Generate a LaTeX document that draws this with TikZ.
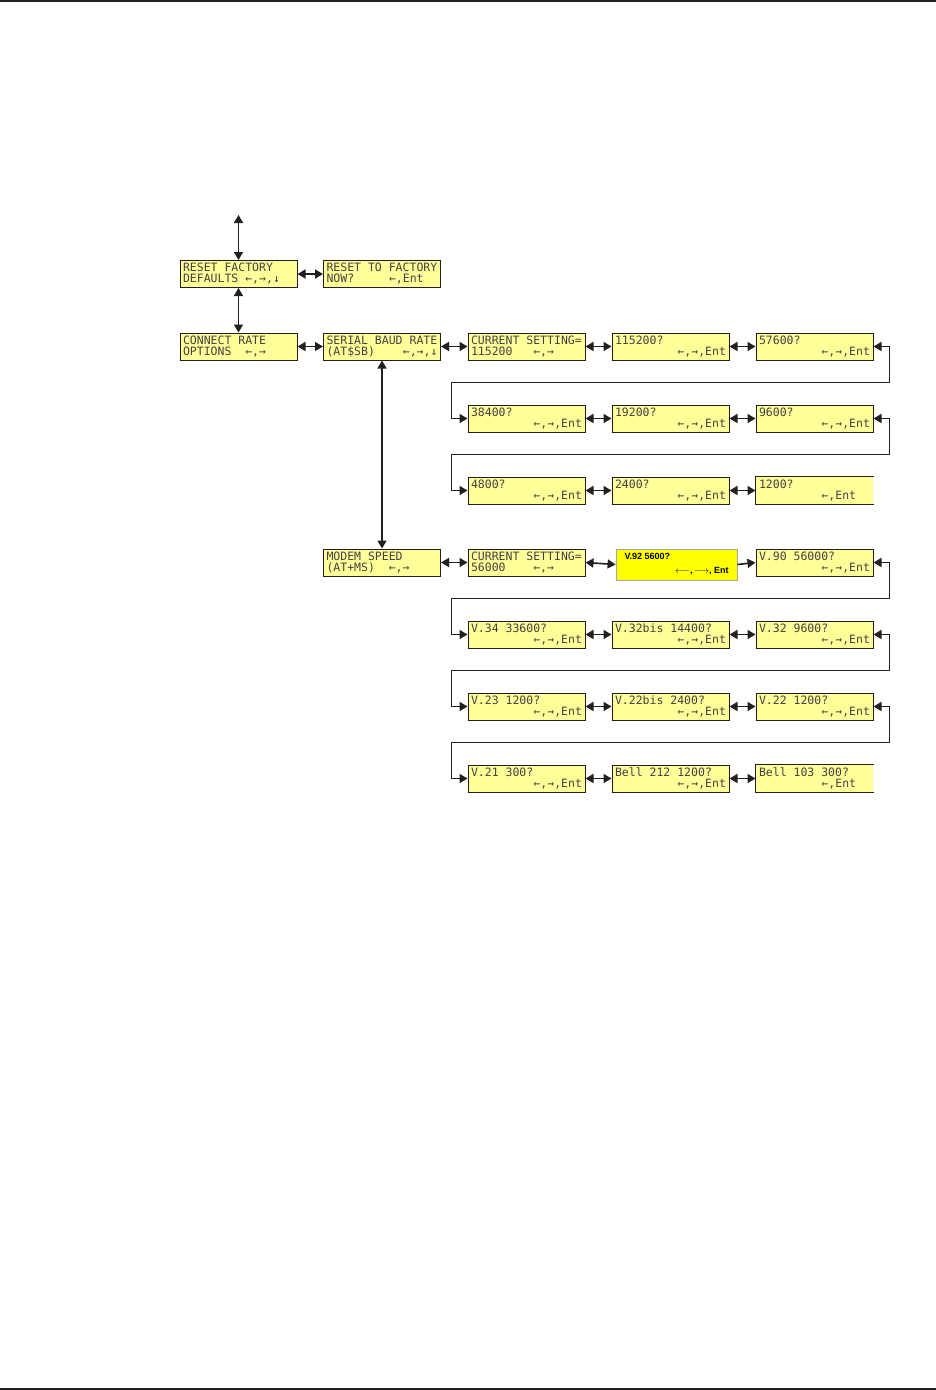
\documentclass[tikz,border=0pt]{standalone}
\usepackage{fontspec}
\usepackage{tikz}
\usetikzlibrary{arrows.meta,positioning,calc}
\newfontfamily\lcdfont{DejaVu Sans Mono}
\newfontfamily\vfont{Liberation Sans}
\definecolor{lcdyellow}{HTML}{FFFF99}
\definecolor{hiyellow}{HTML}{FFFF00}
\definecolor{ink}{HTML}{231F20}
% two lines of a 16-character display
\newcommand{\lcd}[2]{\vbox{\hsize=111pt\hbox to\hsize{#1\hfil}\hbox to\hsize{#2\hfil}}}

\begin{document}
\begin{tikzpicture}[x=1pt,y=-1pt,
  lcd/.style={draw=ink,line width=1pt,fill=lcdyellow,minimum width=117pt,minimum height=27pt,
    inner sep=0pt,font=\lcdfont\fontsize{11.5}{11}\selectfont,text=ink!85},
  lcdopen/.style={lcd,draw=none},
  dbl/.style={{Triangle[length=8pt,width=9pt]}-{Triangle[length=8pt,width=9pt]},line width=1.6pt,draw=ink},
  sgl/.style={-{Triangle[length=8pt,width=9pt]},line width=1.6pt,draw=ink}]
\useasboundingbox (0,0) rectangle (936,1390);
\draw[ink,line width=1.2pt] (0,1) -- (936,1);
\draw[ink,line width=1.2pt] (0,1389) -- (936,1389);

% menu column
\node[lcd] (rf) at (238.5,274) {\lcd{RESET FACTORY}{DEFAULTS ←,→,↓}};
\node[lcd] (rn) at (382,274) {\lcd{RESET TO FACTORY}{NOW?\hfill←,Ent~~}};
\node[lcd] (cr) at (238.5,346.5) {\lcd{CONNECT RATE}{OPTIONS~~←,→}};
\node[lcd] (sb) at (382,346.5) {\lcd{SERIAL BAUD RATE}{(AT\$SB)\hfill←,→,↓}};
\node[lcd] (ms) at (382,562.5) {\lcd{MODEM SPEED}{(AT+MS)~~←,→}};

% serial baud rate
\node[lcd] (cs) at (526.5,346.5) {\lcd{CURRENT SETTING=}{115200~~~←,→}};
\node[lcd] (b1) at (670.5,346.5) {\lcd{115200?}{\hfill←,→,Ent}};
\node[lcd] (b2) at (814.5,346.5) {\lcd{57600?}{\hfill←,→,Ent}};
\node[lcd] (b3) at (526.5,418.5) {\lcd{38400?}{\hfill←,→,Ent}};
\node[lcd] (b4) at (670.5,418.5) {\lcd{19200?}{\hfill←,→,Ent}};
\node[lcd] (b5) at (814.5,418.5) {\lcd{9600?}{\hfill←,→,Ent}};
\node[lcd] (b6) at (526.5,490.5) {\lcd{4800?}{\hfill←,→,Ent}};
\node[lcd] (b7) at (670.5,490.5) {\lcd{2400?}{\hfill←,→,Ent}};
\node[lcdopen] (b8) at (814.5,490.5) {\lcd{1200?}{\hfill←,Ent~~}};
\draw[ink,line width=1pt] (b8.north east) -- (b8.north west) -- (b8.south west) -- (b8.south east);

% modem speed
\node[lcd] (cm) at (526.5,562.5) {\lcd{CURRENT SETTING=}{56000~~~~←,→}};
\node[draw=gray!70,line width=0.8pt,fill=hiyellow,minimum width=121pt,minimum height=31pt,inner sep=0pt,
  font=\vfont\bfseries\fontsize{9}{14}\selectfont] (v92) at (676.5,564.5)
  {\vbox{\hsize=104pt\hbox to\hsize{V.92 5600?\hfil}\hbox to\hsize{\hfil$\longleftarrow$,\,$\longrightarrow$, Ent}}};
\node[lcd] (m1) at (814.5,562.5) {\lcd{V.90 56000?}{\hfill←,→,Ent}};
\node[lcd] (m2) at (526.5,634.5) {\lcd{V.34 33600?}{\hfill←,→,Ent}};
\node[lcd] (m3) at (670.5,634.5) {\lcd{V.32bis 14400?}{\hfill←,→,Ent}};
\node[lcd] (m4) at (814.5,634.5) {\lcd{V.32 9600?}{\hfill←,→,Ent}};
\node[lcd] (m5) at (526.5,706.5) {\lcd{V.23 1200?}{\hfill←,→,Ent}};
\node[lcd] (m6) at (670.5,706.5) {\lcd{V.22bis 2400?}{\hfill←,→,Ent}};
\node[lcd] (m7) at (814.5,706.5) {\lcd{V.22 1200?}{\hfill←,→,Ent}};
\node[lcd] (m8) at (526.5,778.5) {\lcd{V.21 300?}{\hfill←,→,Ent}};
\node[lcd] (m9) at (670.5,778.5) {\lcd{Bell 212 1200?}{\hfill←,→,Ent}};
\node[lcdopen] (m10) at (814.5,778.5) {\lcd{Bell 103 300?}{\hfill←,Ent~~}};
\draw[ink,line width=1pt] (m10.north east) -- (m10.north west) -- (m10.south west) -- (m10.south east);

% connectors
\draw[dbl] (rf.north) -- ++(0,-45);
\draw[dbl] (rf.south) -- (cr.north);
\draw[dbl] (sb.south) -- (ms.north);
\foreach \a/\b in {rf/rn,cr/sb,sb/cs,cs/b1,b1/b2,b3/b4,b4/b5,b6/b7,b7/b8,
    ms/cm,cm/v92,m2/m3,m3/m4,m5/m6,m6/m7,m8/m9,m9/m10}
  \draw[dbl] (\a.east) -- (\b.west);
\draw[sgl] (v92.east) -- (m1.west);
\foreach \a/\b in {b2/b3,b5/b6,m1/m2,m4/m5,m7/m8}
  \draw[dbl] (\a.east) -- ++(16,0) |- ($(\b.west)+(-16,-36)$) |- (\b.west);
\end{tikzpicture}
\end{document}
